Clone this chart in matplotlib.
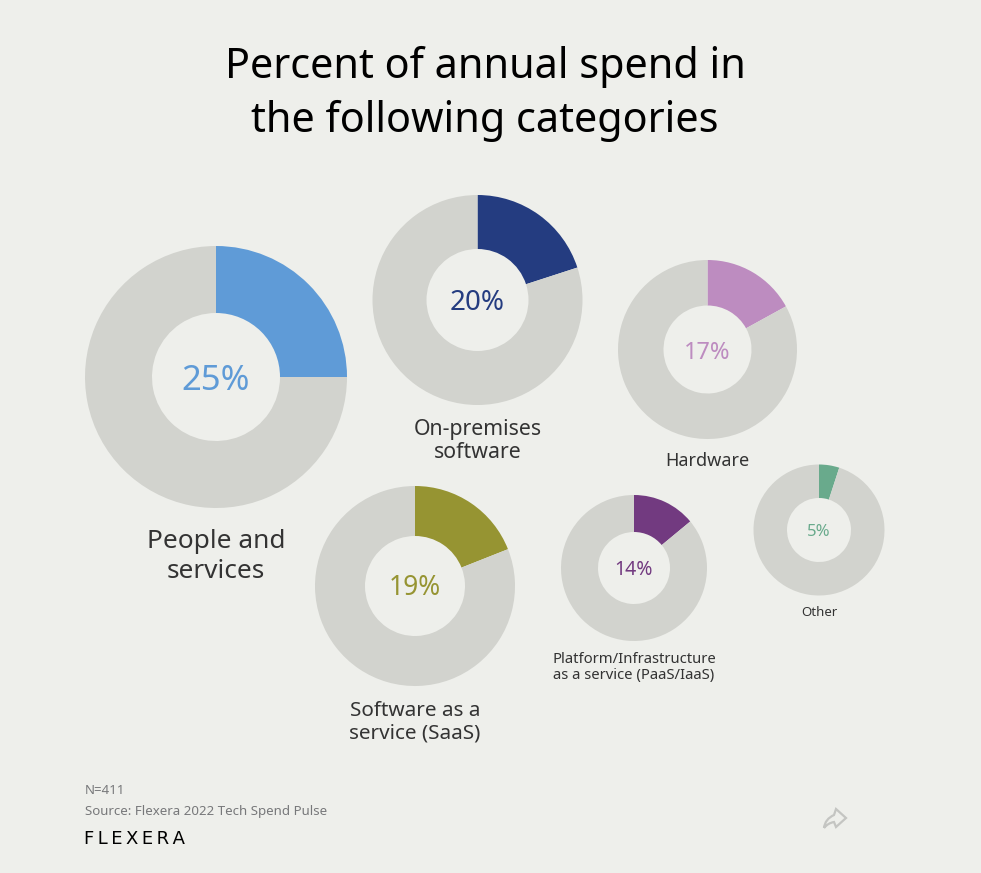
import matplotlib
matplotlib.use('Agg')
import matplotlib.pyplot as plt
from matplotlib.patches import PathPatch
from matplotlib.path import Path

# chart data
labels = ['People and\nservices', 'On-premises\nsoftware', 'Hardware',
          'Software as a\nservice (SaaS)', 'Platform/Infrastructure\nas a service (PaaS/IaaS)', 'Other']
values = [25, 20, 17, 19, 14, 5]

title = 'Percent of annual spend in\nthe following categories'
notes = ['N=411', 'Source: Flexera 2022 Tech Spend Pulse']

# layout, in pixels of the reference
W, H = 981, 873
centers = [(216, 377), (477.5, 300), (707.5, 349.5), (415, 586), (634, 568), (819, 530)]
radii = [131, 105, 89.5, 100, 73, 65.5]
holes = [64, 51, 44, 50, 36, 32]
label_y = [556.5, 441, 461, 722, 667.5, 612]
label_size = [18.9, 15.3, 13, 14.9, 10.7, 9.5]
label_gap = [1.27, 1.14, 1.14, 1.14, 1.14, 1.14]
value_size = [25, 20, 17, 19, 14, 12]
value_y = [381, 303, 353, 588, 570, 532]

colors = ['#5f9bd7', '#243c80', '#bd8cc0', '#969432', '#723a80', '#69aa8c']
gray = '#d2d3ce'
bg = '#eeefeb'
dark = '#333333'

plt.rcParams['font.family'] = ['Noto Sans', 'DejaVu Sans']

fig = plt.figure(figsize=(W / 100, H / 100), dpi=100, facecolor=bg)
ax = fig.add_axes([0, 0, 1, 1])

for i in range(len(values)):
    cx, cy = centers[i]
    ax.pie([values[i], 100 - values[i]], colors=[colors[i], gray], startangle=90, counterclock=False,
           center=(cx, H - cy), radius=radii[i],
           wedgeprops={'width': radii[i] - holes[i], 'linewidth': 0})
    ax.text(cx, H - value_y[i], str(values[i]) + '%', color=colors[i], fontsize=value_size[i],
            ha='center', va='center')
    ax.text(cx, H - label_y[i], labels[i], color=dark, fontsize=label_size[i], ha='center', va='center',
            linespacing=label_gap[i])

ax.set_xlim(0, W)
ax.set_ylim(0, H)
ax.set_aspect('equal')
ax.axis('off')

ax.text(485, H - 94, title, color='black', fontsize=29.8, ha='center', va='center', linespacing=1.36)

ax.text(85, H - 791, notes[0], color='#77787a', fontsize=9.55, ha='left', va='center')
ax.text(85, H - 812, notes[1], color='#77787a', fontsize=9.55, ha='left', va='center')
# logo, letters spaced out with hair spaces
ax.text(84, H - 839, '\u200a\u200a'.join('FLEXERA'), color='black', fontsize=13, family='DejaVu Sans',
        ha='left', va='center')

# share arrow
arrow_pts = [(824, 828), (825, 819), (834, 815), (836, 809), (846, 818), (836, 827), (834, 822), (828, 823), (824, 828)]
arrow_codes = [Path.MOVETO, Path.CURVE3, Path.CURVE3, Path.LINETO, Path.LINETO, Path.LINETO, Path.LINETO,
               Path.CURVE3, Path.CURVE3]
ax.add_patch(PathPatch(Path([(x, H - y) for x, y in arrow_pts], arrow_codes), facecolor='none',
                       edgecolor='#c4c5c2', lw=1.6))

fig.savefig('out.png', dpi=100, facecolor=bg)
